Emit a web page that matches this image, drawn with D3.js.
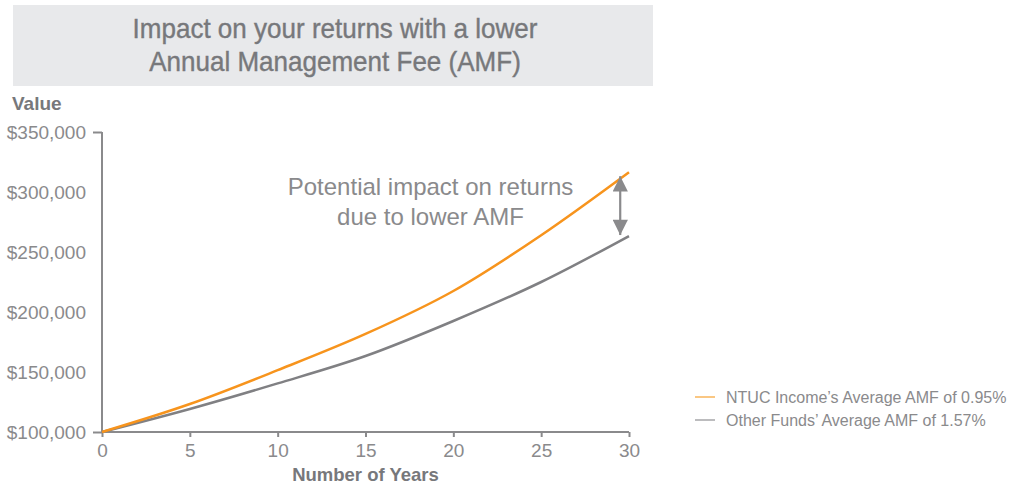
<!DOCTYPE html>
<html>
<head>
<meta charset="utf-8">
<script src="https://cdn.jsdelivr.net/npm/d3@7"></script>
<style>
  body { margin: 0; background: #fff; }
  svg text { font-family: "Liberation Sans", Arial, sans-serif; }
</style>
</head>
<body>
<svg id="chart" width="1011" height="484"></svg>
<script>
// values
var years = [0, 5, 10, 15, 20, 25, 30];
var ntucValues = [100000, 123300, 151500, 181700, 217500, 264000, 316500];
var otherValues = [100000, 119200, 140500, 163300, 192500, 225000, 263300];
var xTicks = [0, 5, 10, 15, 20, 25, 30];
var yTicks = [100000, 150000, 200000, 250000, 300000, 350000];
var titleLines = ["Impact on your returns with a lower", "Annual Management Fee (AMF)"];
var noteLines = ["Potential impact on returns", "due to lower AMF"];
var legendLabels = ["NTUC Income\u2019s Average AMF of 0.95%", "Other Funds\u2019 Average AMF of 1.57%"];

var orange = "#f7941d", grey = "#808083", textGrey = "#8a8a8c";
var narrow = "'Liberation Sans Narrow', 'Liberation Sans', sans-serif";

var margin = {top: 132, right: 382, bottom: 52, left: 102},
    width = 1011 - margin.left - margin.right,
    height = 484 - margin.top - margin.bottom;

var svg = d3.select("#chart");

// title box
svg.append("rect")
    .attr("x", 13).attr("y", 5)
    .attr("width", 640).attr("height", 81)
    .attr("fill", "#e8e9eb");
// squeeze the title a bit, the original uses a condensed face
svg.selectAll("text.title")
    .data(titleLines)
    .enter().append("text")
    .attr("class", "title")
    .attr("transform", function(d, i) { return "translate(335," + (38 + i * 33) + ") scale(0.93,1)"; })
    .attr("text-anchor", "middle")
    .style("font-family", narrow)
    .style("font-size", "28px")
    .attr("fill", "#77787b")
    .attr("stroke", "#77787b")
    .attr("stroke-width", 0.4)
    .text(function(d) { return d; });

var g = svg.append("g")
    .attr("transform", "translate(" + margin.left + "," + margin.top + ")");

var x = d3.scaleLinear().domain([0, 30]).range([0, width]);
var y = d3.scaleLinear().domain([100000, 350000]).range([height, 0]);

// axes
var xAxis = g.append("g")
    .attr("transform", "translate(0," + height + ")")
    .call(d3.axisBottom(x).tickValues(xTicks).tickSize(5).tickPadding(7));
var yAxis = g.append("g")
    .call(d3.axisLeft(y).tickValues(yTicks).tickSize(0).tickPadding(16)
        .tickFormat(function(d) { return "$" + d3.format(",")(d); }));

[xAxis, yAxis].forEach(function(a) {
    a.select(".domain").attr("stroke", textGrey).attr("stroke-width", 2);
    a.selectAll(".tick line").attr("stroke", textGrey).attr("stroke-width", 2);
    a.selectAll(".tick text")
        .attr("fill", textGrey)
        .style("font-size", "19px");
});
xAxis.select(".domain").attr("d", "M0,0H" + width);
yAxis.select(".domain").attr("d", "M0," + height + "V0");
// end ticks on y axis
yAxis.selectAll(".tick").filter(function(d) { return d === 100000 || d === 350000; })
    .select("line").attr("x2", -9);

// lines
var line = d3.line()
    .x(function(d) { return x(d[0]); })
    .y(function(d) { return y(d[1]); })
    .curve(d3.curveMonotoneX);

g.append("path")
    .datum(years.map(function(yr, i) { return [yr, otherValues[i]]; }))
    .attr("fill", "none").attr("stroke", grey).attr("stroke-width", 2.5)
    .attr("d", line);
g.append("path")
    .datum(years.map(function(yr, i) { return [yr, ntucValues[i]]; }))
    .attr("fill", "none").attr("stroke", orange).attr("stroke-width", 2.5)
    .attr("d", line);

// arrow between the lines at year 30
var defs = svg.append("defs");
defs.append("marker")
    .attr("id", "head")
    .attr("viewBox", "0 0 10 10")
    .attr("refX", 10).attr("refY", 5)
    .attr("markerWidth", 8.5).attr("markerHeight", 7)
    .attr("markerUnits", "strokeWidth")
    .attr("orient", "auto-start-reverse")
    .append("path")
    .attr("d", "M0,0L10,5L0,10Z")
    .attr("fill", textGrey);

var ax = x(29.5);
g.append("line")
    .attr("x1", ax).attr("x2", ax)
    .attr("y1", y(ntucValues[6]) + 4)
    .attr("y2", y(otherValues[6]) - 1)
    .attr("stroke", textGrey).attr("stroke-width", 2.2)
    .attr("marker-start", "url(#head)")
    .attr("marker-end", "url(#head)");

// annotation
g.selectAll("text.note")
    .data(noteLines)
    .enter().append("text")
    .attr("class", "note")
    .attr("x", x(18.7))
    .attr("y", function(d, i) { return 63 + i * 30; })
    .attr("text-anchor", "middle")
    .attr("fill", textGrey)
    .style("font-size", "24px")
    .text(function(d) { return d; });

// axis titles
svg.append("text")
    .attr("x", 12).attr("y", 110)
    .attr("fill", "#77787b")
    .style("font-family", narrow)
    .style("font-size", "19px")
    .style("font-weight", "bold")
    .text("Value");
svg.append("text")
    .attr("x", margin.left + x(15)).attr("y", 481)
    .attr("text-anchor", "middle")
    .attr("fill", "#77787b")
    .style("font-family", narrow)
    .style("font-size", "18.5px")
    .style("font-weight", "bold")
    .text("Number of Years");

// legend
var legend = svg.selectAll("g.legend")
    .data(legendLabels)
    .enter().append("g")
    .attr("class", "legend")
    .attr("transform", function(d, i) { return "translate(695," + (397 + i * 23) + ")"; });
legend.append("line")
    .attr("x1", 0).attr("x2", 20)
    .attr("stroke", function(d, i) { return i === 0 ? "#f9b45a" : "#a6a6a8"; })
    .attr("stroke-width", 1.5);
legend.append("text")
    .attr("x", 31).attr("y", 5.5)
    .attr("fill", textGrey)
    .style("font-size", "16px")
    .text(function(d) { return d; });
</script>
</body>
</html>
